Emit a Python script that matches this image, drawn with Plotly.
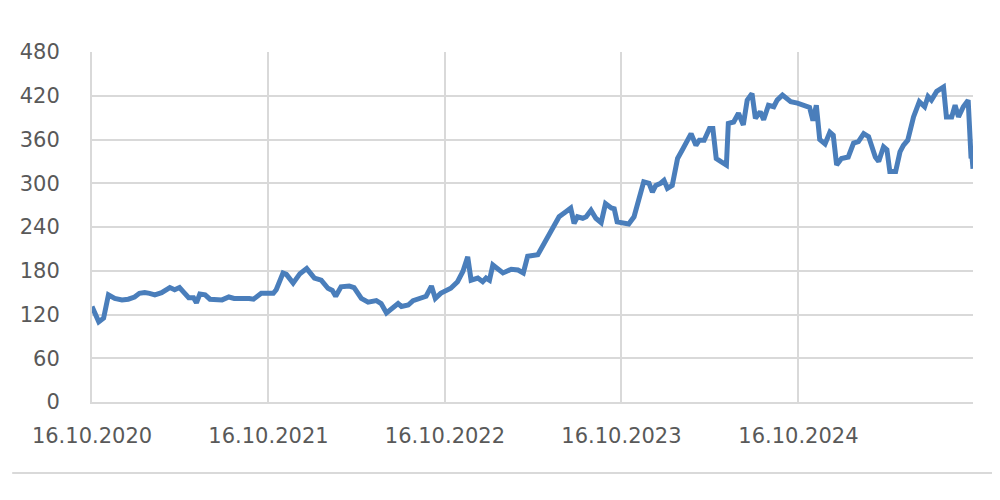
import plotly.graph_objects as go

dates = [
    "2020-10-16", "2020-10-30", "2020-11-09", "2020-11-19", "2020-12-02", "2020-12-17", "2020-12-30",
    "2021-01-12", "2021-01-22", "2021-02-02", "2021-02-12", "2021-02-23", "2021-03-09", "2021-03-26",
    "2021-04-05", "2021-04-15", "2021-04-23", "2021-05-04", "2021-05-14", "2021-05-20", "2021-05-27",
    "2021-06-07", "2021-06-17", "2021-07-12", "2021-07-26", "2021-08-06", "2021-09-06", "2021-09-15",
    "2021-10-01", "2021-10-26", "2021-11-01", "2021-11-15", "2021-11-22", "2021-12-06", "2021-12-20",
    "2022-01-03", "2022-01-19", "2022-02-02", "2022-02-16", "2022-02-25", "2022-03-04", "2022-03-15",
    "2022-04-01", "2022-04-11", "2022-04-26", "2022-05-10", "2022-05-27", "2022-06-06", "2022-06-17",
    "2022-06-30", "2022-07-11", "2022-07-18", "2022-08-01", "2022-08-11", "2022-08-29", "2022-09-07",
    "2022-09-18", "2022-09-26", "2022-10-07", "2022-10-28", "2022-11-11", "2022-11-22", "2022-12-02",
    "2022-12-09", "2022-12-23", "2023-01-02", "2023-01-09", "2023-01-16", "2023-01-23", "2023-02-02",
    "2023-02-13", "2023-03-02", "2023-03-16", "2023-03-27", "2023-04-05", "2023-04-26", "2023-05-10",
    "2023-05-19", "2023-05-30", "2023-06-09", "2023-06-23", "2023-07-03", "2023-07-10", "2023-07-17",
    "2023-07-28", "2023-08-04", "2023-08-14", "2023-08-24", "2023-09-04", "2023-09-13", "2023-09-25",
    "2023-10-01", "2023-10-07", "2023-10-21", "2023-10-31", "2023-11-11", "2023-11-21", "2023-12-01",
    "2023-12-12", "2023-12-19", "2023-12-26", "2024-01-05", "2024-01-12", "2024-01-19", "2024-01-29",
    "2024-02-09", "2024-02-19", "2024-03-01", "2024-03-08", "2024-03-18", "2024-03-25", "2024-04-04",
    "2024-04-15", "2024-04-22", "2024-04-29", "2024-05-08", "2024-05-20", "2024-05-24", "2024-06-04",
    "2024-06-14", "2024-06-24", "2024-07-02", "2024-07-12", "2024-07-19", "2024-07-29", "2024-08-05",
    "2024-08-15", "2024-08-26", "2024-09-02", "2024-09-13", "2024-09-30", "2024-10-14", "2024-11-08",
    "2024-11-15", "2024-11-22", "2024-11-29", "2024-12-10", "2024-12-20", "2024-12-27", "2025-01-03",
    "2025-01-13", "2025-01-27", "2025-02-07", "2025-02-17", "2025-02-28", "2025-03-10", "2025-03-24",
    "2025-03-31", "2025-04-10", "2025-04-17", "2025-04-23", "2025-05-05", "2025-05-14", "2025-05-21",
    "2025-05-30", "2025-06-11", "2025-06-23", "2025-07-04", "2025-07-11", "2025-07-18", "2025-07-29",
    "2025-08-12", "2025-08-18", "2025-08-29", "2025-09-05", "2025-09-12", "2025-09-22", "2025-10-02",
    "2025-10-08", "2025-10-10", "2025-10-12",
]

prices = [
    131, 110, 115, 147, 142, 140, 141,
    144, 149, 150, 149, 147, 150, 157,
    154, 157, 151, 143, 143, 136, 148,
    147, 141, 140, 144, 142, 142, 141,
    149, 149, 154, 177, 175, 163, 176,
    183, 170, 167, 156, 153, 145, 158,
    159, 157, 142, 137, 139, 135, 122,
    128, 135, 131, 133, 139, 142, 145,
    159, 142, 149, 156, 165, 179, 199,
    167, 170, 165, 170, 167, 188, 183,
    177, 182, 181, 177, 200, 202, 218,
    227, 240, 254, 261, 266, 245, 254,
    252, 254, 263, 252, 246, 272, 266,
    265, 247, 246, 244, 254, 277, 302,
    300, 288, 297, 300, 304, 293, 297,
    334, 346, 359, 368, 352, 359, 359,
    375, 375, 334, 330, 325, 382, 384,
    396, 380, 414, 423, 389, 398, 387,
    407, 405, 414, 421, 412, 410, 404,
    386, 407, 360, 354, 370, 366, 325,
    334, 336, 355, 357, 368, 364, 336,
    330, 350, 346, 316, 316, 343, 352,
    359, 391, 412, 405, 419, 414, 426,
    432, 391, 391, 407, 391, 405, 414,
    334, 336, 320,
]

x_ticks = ["2020-10-16", "2021-10-16", "2022-10-16", "2023-10-16", "2024-10-16"]
x_tick_labels = ["16.10.2020", "16.10.2021", "16.10.2022", "16.10.2023", "16.10.2024"]
y_ticks = [0, 60, 120, 180, 240, 300, 360, 420, 480]

grid = "#d9d9d9"
txt = "#595959"

fig = go.Figure()
fig.add_trace(go.Scatter(
    x=dates, y=prices, mode="lines",
    line=dict(color="#4a7ebb", width=5),
    hoverinfo="skip", showlegend=False,
))

# page body has an 8px margin, so the figure is sized and placed to compensate
fig.update_layout(
    width=992, height=492,
    margin=dict(l=82, r=27, t=44, b=98),
    paper_bgcolor="white", plot_bgcolor="white",
    font=dict(family="DejaVu Sans", size=21, color=txt),
    xaxis=dict(
        type="date", range=["2020-10-16", "2025-10-12"],
        tickvals=x_ticks, ticktext=x_tick_labels,
        showgrid=True, gridcolor=grid, gridwidth=2,
        showline=True, linecolor=grid, linewidth=2,
        zeroline=False, ticks="", ticklabelstandoff=14,
    ),
    yaxis=dict(
        range=[0, 480], tickvals=y_ticks,
        showgrid=True, gridcolor=grid, gridwidth=2,
        showline=True, linecolor=grid, linewidth=2,
        zeroline=False, ticks="", ticklabelstandoff=26,
    ),
    shapes=[dict(
        type="line", xref="paper", yref="paper",
        x0=(10 - 90) / 883, x1=(993 - 90) / 883,
        y0=(402 - 473) / 350, y1=(402 - 473) / 350,
        line=dict(color=grid, width=2),
    )],
)

fig.write_html("out.html")
